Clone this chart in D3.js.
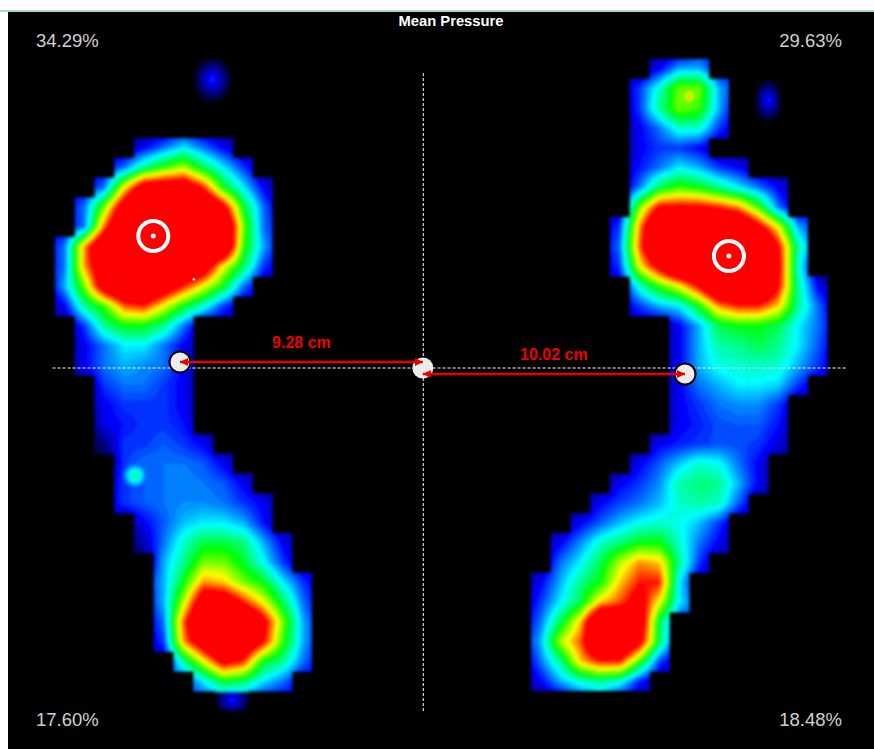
<!DOCTYPE html>
<html>
<head>
<meta charset="utf-8">
<script src="https://cdn.jsdelivr.net/npm/d3@7"></script>
<style>
    html, body { margin: 0; padding: 0; background: #fff; }
    svg { display: block; }
    text { font-family: "Liberation Sans", Arial, sans-serif; }
</style>
</head>
<body>
<svg width="874" height="749"></svg>
<script>
// o = sensor not loaded, cell stays black
const o = null

// mean pressure per sensor
const leftFoot = [
    [o,o,o,o,o,o,o,o,o,o,o,o,o],
    [o,o,o,o,o,o,o,o,o,o,o,o,o],
    [o,o,o,o,o,o,o,o,o,o,o,o,o],
    [o,o,o,o,o,o,o,o,o,o,o,o,o],
    [o,o,o,o,2,3,4,3,2,o,o,o,o],
    [o,o,o,3,5,6.5,7.5,5.5,4,2.5,o,o,o],
    [o,o,3,8,12,12,12,10,6,4,2,o,o],
    [o,3,7,12,14,14,14,14,11,6,3,o,o],
    [o,3,9.5,14,14,14,14,14,14,7,3,o,o],
    [3,9,14,14,14,14,14,14,14,6.5,3.5,o,o],
    [3,9,12,14,14,14,14,12,8,5.5,2.5,o,o],
    [3.5,7,12,14,14,12,10,8,6,3,o,o,o],
    [2,5,6.5,9.5,10,8,6,4.5,2.5,o,o,o,o],
    [o,2.5,5,6,6,5,3,o,o,o,o,o,o],
    [o,2,3,4,4,3,2,o,o,o,o,o,o],
    [o,2,3,3.5,3.2,3,2,o,o,o,o,o,o],
    [o,o,2.5,3,3,2.5,2,o,o,o,o,o,o],
    [o,o,2,2.5,2.5,2.5,2,o,o,o,o,o,o],
    [o,o,2,2.2,2.5,2.5,2.2,o,o,o,o,o,o],
    [o,o,1,2.5,2.5,2.8,2.5,2,o,o,o,o,o],
    [o,o,o,2.5,3,3,3,2.8,2,o,o,o,o],
    [o,o,o,2.5,2.8,3,3.2,3,2.8,2,o,o,o],
    [o,o,o,2.5,2.8,3,3.2,3.2,3,2.5,2,o,o],
    [o,o,o,o,2,2.8,3.6,4,4,3.5,2.2,o,o],
    [o,o,o,o,1.5,3,4.5,5.6,5.6,5.2,3.5,2,o],
    [o,o,o,o,o,3.5,5,7,7,5.8,4.2,2.5,o],
    [o,o,o,o,o,3.5,6,9,8.5,7,6,4,2.5],
    [o,o,o,o,o,3.5,7.5,12,12,10,8,5.5,3],
    [o,o,o,o,o,3,9.5,14,14,14,11,7,3.5],
    [o,o,o,o,o,2.5,9,12,14,13,10.5,6.5,3.5],
    [o,o,o,o,o,o,5,8,11,10,6,5,3],
    [o,o,o,o,o,o,o,4,6,5.5,4,3,o],
    [o,o,o,o,o,o,o,o,o,o,o,o,o]
]

const rightFoot = [
    [o,o,o,o,o,o,2,3.5,3.5,o,o,o,o,o,o],
    [o,o,o,o,o,2.5,4.5,7,7,3.5,o,o,o,o,o],
    [o,o,o,o,o,2.5,5,7,6.5,3.5,o,o,o,o,o],
    [o,o,o,o,o,2,3,4.5,4.5,2.5,o,o,o,o,o],
    [o,o,o,o,o,2,2.5,2.5,2,o,o,o,o,o,o],
    [o,o,o,o,o,2.2,3,4,3.5,2.5,2,o,o,o,o],
    [o,o,o,o,o,3,5.5,6.5,6,5,4,3,2,o,o],
    [o,o,o,o,o,7,10.5,10.5,10.5,10,9,6.5,3,o,o],
    [o,o,o,o,2.5,9,14,14,14,14,14,11,8,3.5,o],
    [o,o,o,o,3,9.5,14,14,14,14,14,14,10.5,5,o],
    [o,o,o,o,2.5,8,11,14,14,14,14,14,11,4.5,o],
    [o,o,o,o,o,4.5,6.5,8,10.5,14,14,14,10.5,5,2],
    [o,o,o,o,o,2.5,3.5,4,6,9,10,10,8.5,5,3],
    [o,o,o,o,o,o,o,2,3.5,5.5,6,6,5.5,4,3],
    [o,o,o,o,o,o,o,2,3.5,4.8,5,5.5,5,4,2.8],
    [o,o,o,o,o,o,o,2,3.5,4.3,4.5,4.6,4.5,3.5,2.5],
    [o,o,o,o,o,o,o,2,3,3.5,4,4,3.8,2.5,o],
    [o,o,o,o,o,o,o,2,2.5,3,3.2,3.2,2.5,o,o],
    [o,o,o,o,o,o,o,2,2.3,2.7,2.8,2.8,2.2,o,o],
    [o,o,o,o,o,o,2,2.3,2.5,2.7,2.7,2.5,1.8,o,o],
    [o,o,o,o,o,2,2.8,3.7,4.5,4.2,3,2,o,o,o],
    [o,o,o,o,2,2.5,3.2,4.8,5.2,5,3.5,2,o,o,o],
    [o,o,o,2,2.6,3,3.6,4.5,4.8,4.6,2.8,o,o,o,o],
    [o,o,2,2.8,3.6,4.2,4.5,4.2,3.6,2.5,o,o,o,o,o],
    [o,2,3.2,4.5,5.2,6,6,4.5,3,2,o,o,o,o,o],
    [o,3,4,5.5,7.5,9,8.5,5,2.5,o,o,o,o,o,o],
    [2,3.5,5,6,8.5,10,10,4,o,o,o,o,o,o,o],
    [2.5,4,5.5,8.5,9.5,11,8,4,o,o,o,o,o,o,o],
    [3,5.5,8.5,14,14,12,5.5,o,o,o,o,o,o,o,o],
    [3.5,7.5,9.5,14,14,11,5.5,o,o,o,o,o,o,o,o],
    [3,5,8.5,10,10,6.5,2.5,o,o,o,o,o,o,o,o],
    [2,3.5,4.5,5,4.5,2.2,o,o,o,o,o,o,o,o,o]
]

// local peaks that sit between sensors: [col, row, peak, reach in cols, reach in rows]
const leftPeaks = [[3.55, 20.6, 5.4, 1.2, 1.2]]
const rightPeaks = [[7.5, 1.4, 9.6, 0.9, 0.9]]
// faint spots off the main print, same columns
const leftSpots = [[7.45, 0.55, 2.5, 1.05, 1.25], [8.46, 31.96, 2.4, 1, 0.9]]
const rightSpots = [[11.5, 1.6, 2.4, 0.75, 1.2]]

const pressureStops = [0, 2, 4, 6, 8, 10]
const pressureColors = ['#000000', '#0000ff', '#00ffff', '#00ff00', '#ffff00', '#ff0000']

const title = 'Mean Pressure'
const quadrantLabels = ['34.29%', '29.63%', '17.60%', '18.48%']

// everything below in cm from the centre of the stance
const distanceLabels = ['9.28 cm', '10.02 cm']
const leftDistance = 9.28
const rightDistance = 10.02
const centresOfPressure = [[-10.3, 5.06], [11.7, 4.29]]

const svg = d3.select('svg')

svg.append('rect').attr('width', 874).attr('height', 749).attr('fill', '#fff')
svg.append('rect').attr('x', 0).attr('y', 10).attr('width', 874).attr('height', 2).attr('fill', '#a9d3d8')
svg.append('rect').attr('x', 8).attr('y', 12).attr('width', 866).attr('height', 737).attr('fill', '#000')

const color = d3.scaleLinear().domain(pressureStops).range(pressureColors).clamp(true)
const levels = d3.range(0.2, 10.01, 0.2)

const x = d3.scaleLinear().domain([-leftDistance, rightDistance]).range([180, 685])
const y = d3.scaleLinear().domain([0, 1]).range([368, 368 - 26.1])

svg.append('defs').append('filter')
    .attr('id', 'soft')
    .attr('x', '-5%').attr('y', '-5%').attr('width', '110%').attr('height', '110%')
    .append('feGaussianBlur').attr('stdDeviation', 1.8)

// empty sensors get a low value from their neighbours, that leaves a blue rim at the clip
function fillGaps(rows) {
    const nRows = rows.length, nCols = rows[0].length
    const at = (r, c) => (r >= 0 && r < nRows && c >= 0 && c < nCols) ? rows[r][c] : null
    return d3.range(-1, nRows + 1).map(r => d3.range(-1, nCols + 1).map(c => {
        if (at(r, c) !== null) return at(r, c)
        const near = []
        for (let dr = -1; dr <= 1; dr++) {
            for (let dc = -1; dc <= 1; dc++) {
                if (at(r + dr, c + dc) !== null) near.push(at(r + dr, c + dc))
            }
        }
        return near.length ? d3.min(near) * 0.6 : 0
    }))
}

function peakValue(peaks, gx, gy) {
    let v = 0
    peaks.forEach(p => {
        const dist = Math.hypot((gx - p[0]) / p[3], (gy - p[1]) / p[4])
        v = Math.max(v, p[2] * (1 - dist))
    })
    return v
}

// bilinear read between sensor centres
function readGrid(filled, gx, gy) {
    const c0 = Math.floor(gx), r0 = Math.floor(gy)
    const top = d3.interpolateNumber(filled[r0 + 1][c0 + 1], filled[r0 + 1][c0 + 2])(gx - c0)
    const bot = d3.interpolateNumber(filled[r0 + 2][c0 + 1], filled[r0 + 2][c0 + 2])(gx - c0)
    return d3.interpolateNumber(top, bot)(gy - r0)
}

function drawFoot(rows, peaks, spots, name, originX, originY, cell) {
    const nRows = rows.length
    const nCols = rows[0].length
    const step = 2 // contour samples per sensor is cell / step
    const w = Math.round(nCols * cell / step)
    const h = Math.round(nRows * cell / step)
    const filled = fillGaps(rows)

    const values = new Array(w * h)
    const spotValues = new Array(w * h)
    for (let j = 0; j < h; j++) {
        for (let i = 0; i < w; i++) {
            const gx = (i + 0.5) * step / cell - 0.5
            const gy = (j + 0.5) * step / cell - 0.5
            values[j * w + i] = Math.max(readGrid(filled, gx, gy), peakValue(peaks, gx, gy))
            spotValues[j * w + i] = peakValue(spots, gx, gy)
        }
    }

    const cells = []
    rows.forEach((row, r) => row.forEach((v, c) => { if (v !== null) cells.push({ r: r, c: c }) }))

    const colX = d3.scaleLinear().domain([0, nCols]).range([originX, originX + nCols * cell])
    const rowY = d3.scaleLinear().domain([0, nRows]).range([originY, originY + nRows * cell])

    svg.select('defs').append('clipPath')
        .attr('id', 'clip-' + name)
        .selectAll('rect')
        .data(cells)
        .enter()
        .append('rect')
        .attr('x', d => colX(d.c))
        .attr('y', d => rowY(d.r))
        .attr('width', cell + 0.5)
        .attr('height', cell + 0.5)

    const path = d3.geoPath(d3.geoTransform({
        point: function(px, py) {
            this.stream.point(originX + px * nCols * cell / w, originY + py * nRows * cell / h)
        }
    }))

    const outer = svg.append('g').attr('filter', 'url(#soft)')
    outer.append('g')
        .selectAll('path')
        .data(d3.contours().size([w, h]).thresholds(levels)(spotValues))
        .enter()
        .append('path')
        .attr('d', path)
        .attr('fill', d => color(d.value))
    outer.append('g')
        .attr('clip-path', 'url(#clip-' + name + ')')
        .selectAll('path')
        .data(d3.contours().size([w, h]).thresholds(levels)(values))
        .enter()
        .append('path')
        .attr('d', path)
        .attr('fill', d => color(d.value))
}

drawFoot(leftFoot, leftPeaks, leftSpots, 'left', 55, 59, 19.75)
drawFoot(rightFoot, rightPeaks, rightSpots, 'right', 531, 59, 19.75)

// crosshair
const cross = svg.append('g')
    .attr('stroke', '#fff')
    .attr('stroke-width', 1)
    .attr('stroke-dasharray', '3,2')
cross.append('line').attr('x1', x(-14.15)).attr('x2', x(16.2)).attr('y1', y(0)).attr('y2', y(0))
cross.append('line').attr('x1', x(0) + 0.5).attr('x2', x(0) + 0.5).attr('y1', y(11.3)).attr('y2', y(-13.2))

// distance markers
const markerY = [0.23, -0.23]
const markers = [
    { cx: x(-leftDistance), cy: y(markerY[0]), stroke: '#000' },
    { cx: x(0), cy: y(0), stroke: 'none' },
    { cx: x(rightDistance), cy: y(markerY[1]), stroke: '#000' }
]
svg.append('g').selectAll('circle')
    .data(markers)
    .enter()
    .append('circle')
    .attr('cx', d => d.cx)
    .attr('cy', d => d.cy)
    .attr('r', 10.5)
    .attr('fill', '#ececec')
    .attr('stroke', d => d.stroke)
    .attr('stroke-width', 2)

svg.select('defs').append('marker')
    .attr('id', 'head')
    .attr('viewBox', '0 0 8 8')
    .attr('refX', 8).attr('refY', 4)
    .attr('markerWidth', 8).attr('markerHeight', 8)
    .attr('markerUnits', 'userSpaceOnUse')
    .attr('orient', 'auto-start-reverse')
    .append('path').attr('d', 'M8,4L0,0L0,8Z').attr('fill', '#e60000')

const spans = [
    { x1: x(-leftDistance), x2: x(0), y: y(markerY[0]), label: distanceLabels[0], ly: 348 },
    { x1: x(0), x2: x(rightDistance), y: y(markerY[1]), label: distanceLabels[1], ly: 360 }
]
svg.append('g').selectAll('line')
    .data(spans)
    .enter()
    .append('line')
    .attr('x1', d => d.x1)
    .attr('x2', d => d.x2)
    .attr('y1', d => d.y)
    .attr('y2', d => d.y)
    .attr('stroke', '#e60000')
    .attr('stroke-width', 2.5)
    .attr('marker-start', 'url(#head)')
    .attr('marker-end', 'url(#head)')

svg.append('g').selectAll('text')
    .data(spans)
    .enter()
    .append('text')
    .attr('x', d => (d.x1 + d.x2) / 2)
    .attr('y', d => d.ly)
    .attr('text-anchor', 'middle')
    .attr('fill', '#f00000')
    .attr('font-weight', 'bold')
    .attr('font-size', 16)
    .text(d => d.label)

// centre of pressure rings
const rings = svg.append('g').selectAll('g')
    .data(centresOfPressure)
    .enter()
    .append('g')
    .attr('transform', d => 'translate(' + x(d[0]) + ',' + y(d[1]) + ')')
rings.append('circle').attr('r', 15).attr('fill', 'none').attr('stroke', '#fff').attr('stroke-width', 4)
rings.append('circle').attr('r', 2.5).attr('fill', '#fff')

// stray sensor spot on the left forefoot
svg.append('circle').attr('cx', x(-8.75)).attr('cy', y(3.4)).attr('r', 1.2).attr('fill', '#fff')

// texts
svg.append('text')
    .attr('x', 451).attr('y', 26)
    .attr('text-anchor', 'middle')
    .attr('fill', '#fff')
    .attr('font-weight', 'bold')
    .attr('font-size', 14)
    .attr('textLength', 105)
    .attr('lengthAdjust', 'spacingAndGlyphs')
    .text(title)

const labelPos = [[36, 47, 'start'], [842, 47, 'end'], [36, 726, 'start'], [842, 726, 'end']]
svg.append('g').selectAll('text')
    .data(quadrantLabels)
    .enter()
    .append('text')
    .attr('x', (d, i) => labelPos[i][0])
    .attr('y', (d, i) => labelPos[i][1])
    .attr('text-anchor', (d, i) => labelPos[i][2])
    .attr('fill', '#d0d0d0')
    .attr('font-size', 18.5)
    .text(d => d)
</script>
</body>
</html>
